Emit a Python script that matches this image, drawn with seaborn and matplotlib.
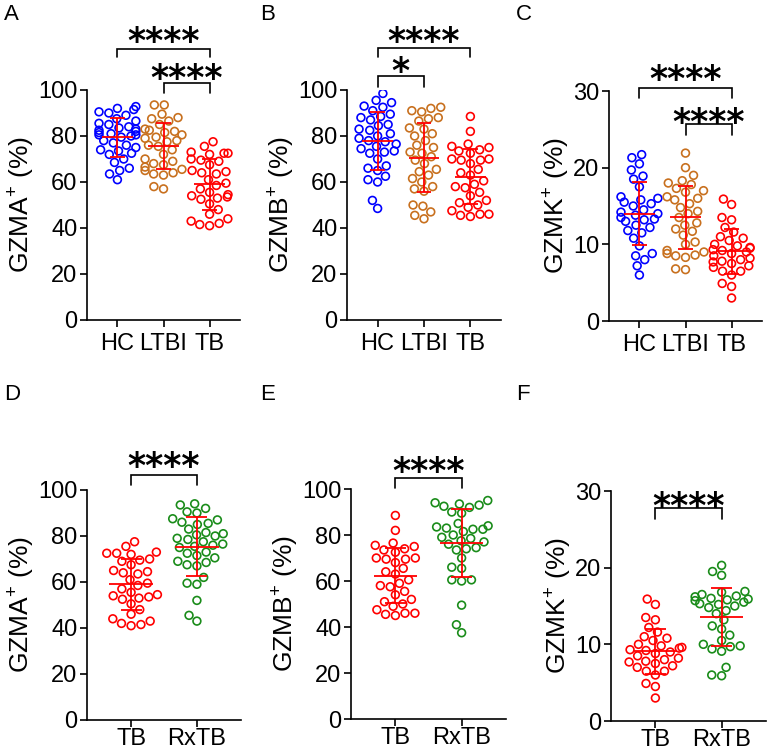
import numpy as np
import pandas as pd
import matplotlib
matplotlib.use("Agg")
import matplotlib.pyplot as plt
import seaborn as sns

# ---------------- data ----------------
groups_top = ["HC", "LTBI", "TB"]
groups_bot = ["TB", "RxTB"]

gzma_hc = [92.8, 92.0, 91.5, 90.5, 90.0, 89.0, 87.5, 86.5, 85.5, 85.0, 84.0, 83.5, 83.0, 82.5,
           82.0, 81.5, 81.0, 80.5, 80.5, 80.0, 79.5, 78.0, 77.0, 76.0, 75.0, 74.0, 73.5, 72.5,
           72.0, 70.0, 68.5, 66.0, 65.0, 63.5, 61.0]
gzma_ltbi = [93.5, 93.5, 89.5, 88.0, 87.5, 86.5, 85.0, 83.0, 82.5, 82.0, 81.5, 80.5, 79.5, 79.0,
             78.0, 77.5, 76.0, 75.5, 74.0, 72.0, 70.0, 69.0, 68.0, 67.5, 66.5, 65.5, 65.0, 64.0,
             63.5, 63.0, 58.0, 57.0]
gzma_tb = [77.5, 75.5, 73.0, 72.5, 72.5, 72.0, 70.0, 69.5, 69.0, 67.5, 65.0, 64.5, 64.0, 63.5,
           61.0, 59.5, 58.5, 57.0, 55.5, 54.5, 54.0, 53.5, 53.0, 52.5, 50.5, 48.0, 46.0, 44.0,
           43.0, 42.0, 41.5, 41.0]
gzma_rxtb = [94.0, 93.5, 92.0, 90.5, 90.0, 87.5, 87.0, 86.0, 85.5, 85.0, 83.0, 81.5, 81.0, 80.5,
             80.0, 79.0, 78.5, 77.5, 76.5, 76.0, 75.5, 75.0, 73.0, 72.5, 71.5, 70.5, 69.0, 68.5,
             67.5, 67.0, 62.0, 59.5, 59.0, 52.0, 45.5, 43.0]

gzmb_hc = [98.5, 95.5, 94.5, 93.0, 92.5, 91.0, 89.5, 88.5, 88.0, 87.0, 85.0, 84.5, 83.0, 82.5,
           81.0, 80.0, 79.0, 78.0, 77.5, 76.5, 75.5, 74.5, 73.5, 73.0, 72.5, 70.0, 67.0, 66.0,
           65.0, 62.5, 61.0, 60.0, 52.0, 48.5]
gzmb_ltbi = [92.5, 92.0, 91.0, 90.5, 88.0, 87.5, 86.5, 83.5, 83.0, 81.0, 80.0, 78.0, 76.0, 75.0,
             73.0, 72.5, 71.0, 69.5, 68.0, 65.5, 64.5, 63.0, 61.5, 60.0, 58.0, 57.0, 56.0, 50.0,
             49.5, 47.0, 45.5, 44.0]
gzmb_tb = [88.5, 82.0, 76.5, 75.5, 75.0, 74.0, 73.5, 72.5, 70.0, 70.0, 69.5, 69.5, 68.0, 65.5,
           64.0, 63.0, 60.5, 59.0, 58.0, 57.5, 55.5, 54.0, 52.0, 51.0, 50.0, 49.0, 47.5, 46.0,
           46.0, 45.5, 45.0]
gzmb_rxtb = [95.0, 94.0, 93.5, 93.0, 92.5, 92.0, 90.0, 89.5, 85.0, 84.0, 83.5, 83.0, 82.5, 82.5,
             81.5, 80.0, 79.0, 78.5, 77.5, 77.0, 76.0, 74.5, 74.0, 73.5, 70.0, 66.0, 65.5, 60.5,
             60.5, 60.0, 49.5, 41.0, 37.5]

gzmk_hc = [21.7, 21.3, 20.5, 19.7, 18.9, 18.5, 17.5, 16.2, 16.0, 15.8, 15.5, 15.3, 15.0, 14.5,
           14.2, 14.0, 13.8, 13.5, 13.3, 13.2, 13.0, 12.5, 12.2, 11.8, 11.5, 10.8, 9.8, 8.8,
           8.5, 8.0, 7.2, 6.0]
gzmk_ltbi = [21.9, 20.0, 19.0, 18.3, 18.0, 17.8, 17.3, 17.0, 16.8, 16.2, 16.0, 15.8, 15.3, 14.8,
             14.3, 14.0, 13.5, 12.8, 12.5, 12.0, 11.7, 11.2, 10.3, 10.0, 9.2, 9.0, 8.8, 8.6,
             8.5, 8.3, 6.8, 6.7]
gzmk_tb = [15.9, 15.2, 13.5, 13.2, 12.2, 11.6, 11.0, 10.8, 10.5, 10.0, 9.8, 9.6, 9.5, 9.3,
           9.2, 9.0, 8.8, 8.5, 8.2, 8.0, 7.8, 7.7, 7.5, 7.2, 7.0, 6.5, 6.5, 6.0, 4.9, 4.5, 3.0]
gzmk_rxtb = [20.3, 19.5, 19.0, 16.9, 16.8, 16.5, 16.3, 16.2, 16.0, 15.9, 15.8, 15.7, 15.5, 15.3,
             15.2, 15.0, 14.8, 14.4, 14.0, 13.2, 12.4, 12.0, 11.2, 10.5, 10.0, 9.8, 9.7, 9.4,
             9.1, 7.0, 6.0, 5.9]

ylabels = ["GZMA$^{+}$ (%)", "GZMB$^{+}$ (%)", "GZMK$^{+}$ (%)"]
panel_letters = ["A", "B", "C", "D", "E", "F"]
sig_text = ["****", "****", "*", "****"]

colors = {"HC": "#0000FF", "LTBI": "#C8701E", "TB": "#FF0000", "RxTB": "#1A8C1A"}

# ---------------- style ----------------
sns.set_style("ticks")
plt.rcParams["font.family"] = ["Liberation Sans", "DejaVu Sans"]
plt.rcParams["mathtext.default"] = "regular"
plt.rcParams["axes.linewidth"] = 1.2
for key in ["text.color", "axes.labelcolor", "xtick.color", "ytick.color", "axes.edgecolor"]:
    plt.rcParams[key] = "black"

fig = plt.figure(figsize=(7.67, 7.51), dpi=100)

W, H = 767.0, 751.0
def rect(x0, x1, y_bottom, y_top):
    return [x0 / W, 1 - y_bottom / H, (x1 - x0) / W, (y_bottom - y_top) / H]

axes_rects = [
    rect(87, 240, 320, 90),
    rect(347, 501, 320, 90),
    rect(609, 762, 321, 91),
    rect(87, 241, 720, 490),
    rect(351, 506, 719, 489),
    rect(611, 766, 721, 491),
]

panels = [
    (groups_top, [gzma_hc, gzma_ltbi, gzma_tb], 0, (0, 100), [0, 20, 40, 60, 80, 100]),
    (groups_top, [gzmb_hc, gzmb_ltbi, gzmb_tb], 1, (0, 100), [0, 20, 40, 60, 80, 100]),
    (groups_top, [gzmk_hc, gzmk_ltbi, gzmk_tb], 2, (0, 30), [0, 10, 20, 30]),
    (groups_bot, [gzma_tb, gzma_rxtb], 0, (0, 100), [0, 20, 40, 60, 80, 100]),
    (groups_bot, [gzmb_tb, gzmb_rxtb], 1, (0, 100), [0, 20, 40, 60, 80, 100]),
    (groups_bot, [gzmk_tb, gzmk_rxtb], 2, (0, 30), [0, 10, 20, 30]),
]

# brackets: (x1, x2, y_bar, y_drop, star_center, text_index)
brackets = [
    [(0, 2, 118.0, 114.3, 124.8, 0), (1, 2, 103.0, 98.7, 108.7, 1)],
    [(0, 2, 118.3, 114.3, 125.0, 0), (0, 1, 106.0, 101.3, 112.0, 2)],
    [(0, 2, 30.4, 29.1, 32.7, 0), (1, 2, 25.7, 24.2, 27.1, 1)],
    [(0, 1, 106.5, 102.2, 114.0, 3)],
    [(0, 1, 104.8, 100.4, 111.3, 3)],
    [(0, 1, 27.8, 26.3, 29.2, 3)],
]

letter_pos = [(4, 4), (260, 4), (516, 4), (4, 384), (260, 384), (516, 384)]

STAR_FS = 25
star_offset_px = 0.56 * STAR_FS * 100 / 72.0

for i, (groups, vals, yl, ylim, yticks) in enumerate(panels):
    ax = fig.add_axes(axes_rects[i])
    df = pd.DataFrame({
        "group": np.concatenate([[g] * len(v) for g, v in zip(groups, vals)]),
        "value": np.concatenate([np.asarray(v, float) for v in vals]),
    })
    sns.swarmplot(data=df, x="group", y="value", hue="group", order=groups,
                  palette=colors, size=5.6, ax=ax, legend=False, warn_thresh=1.0)
    for coll in ax.collections:
        fc = coll.get_facecolors()
        coll.set_edgecolors(fc)
        coll.set_facecolors("none")
        coll.set_linewidth(1.2)

    stats = df.groupby("group")["value"].agg(["mean", "std"])
    for k, g in enumerate(groups):
        m, s = stats.loc[g, "mean"], stats.loc[g, "std"]
        ax.hlines(m, k - 0.33, k + 0.33, color="#FF0000", lw=1.3, zorder=5)
        ax.hlines([m - s, m + s], k - 0.16, k + 0.16, color="#FF0000", lw=1.3, zorder=5)
        ax.vlines(k, m - s, m + s, color="#FF0000", lw=1.3, zorder=5)

    if len(groups) == 3:
        ax.set_xlim(-0.66, 2.66)
    else:
        ax.set_xlim(-0.67, 1.67)
    ax.set_ylim(*ylim)
    ax.set_yticks(yticks)
    ax.set_xlabel("")
    ax.set_ylabel(ylabels[yl], fontsize=19, labelpad=1)
    ax.tick_params(axis="both", labelsize=17, length=5, width=1.2, pad=2)
    if i >= 3:
        ax.tick_params(axis="x", pad=0.5)
    else:
        ax.tick_params(axis="x", pad=4)
    sns.despine(ax=ax)

    px_per_unit = (axes_rects[i][3] * H) / (ylim[1] - ylim[0])
    for (x1, x2, yb, yd, yc, ti) in brackets[i]:
        ax.plot([x1, x1, x2, x2], [yd, yb, yb, yd], color="black", lw=1.2,
                clip_on=False, solid_joinstyle="miter")
        ax.text((x1 + x2) / 2, yc - star_offset_px / px_per_unit, sig_text[ti],
                ha="center", va="baseline", fontsize=STAR_FS, fontweight="bold",
                family="DejaVu Sans", color="black", clip_on=False)

    lx, ly = letter_pos[i]
    fig.text(lx / W, 1 - ly / H, panel_letters[i], ha="left", va="top", fontsize=16)

fig.savefig("out.png", dpi=100)
